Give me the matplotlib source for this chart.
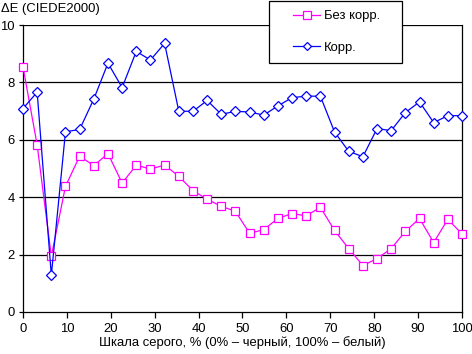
import matplotlib
matplotlib.use("Agg")
import matplotlib.pyplot as plt
from matplotlib.patches import Rectangle

plt.rcParams['font.family'] = ['Liberation Sans', 'DejaVu Sans']

gray_pct = [i * 100 / 31 for i in range(32)]
no_corr = [8.54, 5.82, 1.94, 4.38, 5.43, 5.10, 5.52, 4.49, 5.12, 4.98, 5.12,
           4.73, 4.23, 3.93, 3.68, 3.51, 2.74, 2.87, 3.26, 3.43, 3.35, 3.65,
           2.84, 2.21, 1.62, 1.86, 2.21, 2.81, 3.26, 2.42, 3.23, 2.72]
corr = [7.09, 7.66, 1.28, 6.28, 6.36, 7.42, 8.67, 7.82, 9.08, 8.78, 9.36,
        7.00, 6.99, 7.37, 6.89, 6.99, 6.97, 6.86, 7.18, 7.47, 7.52, 7.52,
        6.27, 5.60, 5.41, 6.39, 6.32, 6.95, 7.32, 6.60, 6.84, 6.84]
xticks = [0, 10, 20, 30, 40, 50, 60, 70, 80, 90, 100]
yticks = [0, 2, 4, 6, 8, 10]

FS = 9.4
W, H = 472, 354

fig = plt.figure(figsize=(4.72, 3.54), dpi=100)
ax = fig.add_axes([23/W, 42/H, 439/W, 287/H])

for y in yticks[1:]:
    ax.axhline(y, color='black', lw=0.9, zorder=1)

l1, = ax.plot(gray_pct, no_corr, color='#FF00FF', lw=0.9, marker='s', ms=6.2,
              mfc='white', mec='#FF00FF', mew=0.9, clip_on=False, zorder=3,
              label='Без корр.')
l2, = ax.plot(gray_pct, corr, color='#0000FF', lw=0.9, marker='D', ms=4.6,
              mfc='white', mec='#0000FF', mew=0.9, clip_on=False, zorder=3,
              label='Корр.')

ax.set_xlim(0, 100)
ax.set_ylim(0, 10)
ax.set_xticks(xticks)
ax.set_yticks(yticks)
ax.tick_params(axis='both', labelsize=FS, length=4, width=0.9, direction='out', pad=4)
ax.tick_params(axis='y', length=3, pad=3)
ax.spines['top'].set_visible(False)
for s in ['left', 'right', 'bottom']:
    ax.spines[s].set_linewidth(0.9)
ax.set_xlabel('Шкала серого, % (0% – черный, 100% – белый)', fontsize=FS, labelpad=1)
fig.text(1/W, 1 - 9/H, 'ΔE (CIEDE2000)', fontsize=FS, va='center', ha='left')

# legend box
box = Rectangle((269/W, 1 - 63/H), 133/W, 62/H, transform=fig.transFigure,
                facecolor='white', edgecolor='black', lw=0.9, zorder=5)
fig.add_artist(box)

leg = fig.legend(handles=[l1, l2], loc='center left',
                 bbox_to_anchor=(293/W, 1 - 32/H), bbox_transform=fig.transFigure,
                 fontsize=FS, frameon=False, borderpad=0, labelspacing=1.5,
                 handlelength=2.07, handletextpad=0.3, borderaxespad=0,
                 markerscale=0.85)
leg.set_zorder(10)

fig.savefig('out.png', dpi=100)
